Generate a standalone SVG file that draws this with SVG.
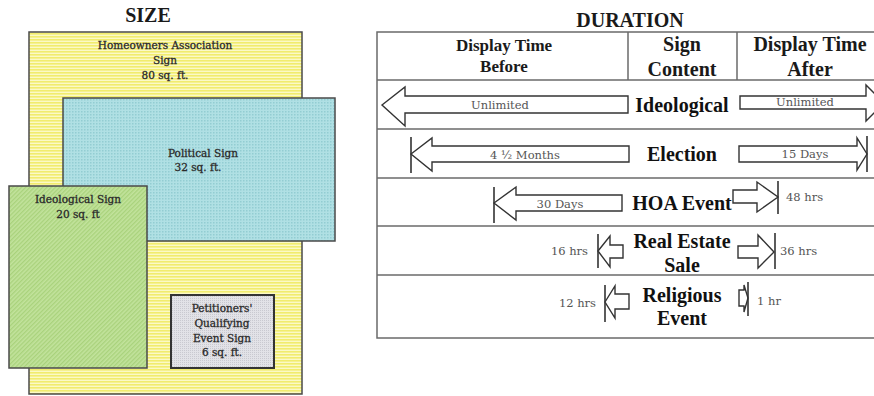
<svg xmlns="http://www.w3.org/2000/svg" width="874" height="396" viewBox="0 0 874 396">
<defs>
<pattern id="pYellow" width="4" height="3" patternUnits="userSpaceOnUse">
<rect width="4" height="3" fill="#fbf9c6"/>
<rect width="4" height="1.6" fill="#f1ec6e"/>
</pattern>
<pattern id="pBlue" width="3" height="3" patternUnits="userSpaceOnUse">
<rect width="3" height="3" fill="#b0e0e4"/>
<rect width="1.5" height="1.5" fill="#93cdd2"/>
</pattern>
<pattern id="pGreen" width="3" height="3" patternUnits="userSpaceOnUse" patternTransform="rotate(45)">
<rect width="3" height="3" fill="#c2e39c"/>
<rect width="1.3" height="3" fill="#a9d27c"/>
</pattern>
<pattern id="pGray" width="2" height="2" patternUnits="userSpaceOnUse">
<rect width="2" height="2" fill="#e2e2e7"/>
<rect width="1" height="1" fill="#c9c9d0"/>
</pattern>
</defs>
<style>
.ttl{font-family:"Liberation Serif",serif;font-weight:bold;font-size:20px;fill:#1a1a1a;text-anchor:middle}
.lbl{font-family:"DejaVu Serif",serif;font-size:10.5px;fill:#222;stroke:#333;stroke-width:0.3;text-anchor:middle}
.hdr{font-family:"Liberation Serif",serif;font-weight:bold;fill:#1a1a1a;text-anchor:middle}
.cnt{font-family:"Liberation Serif",serif;font-weight:bold;font-size:20px;fill:#111;text-anchor:middle}
.sm{font-family:"DejaVu Serif",serif;font-size:11.5px;fill:#555}
.mid{text-anchor:middle}
.end{text-anchor:end}
.box{stroke:#4a4a4a;stroke-width:1.5}
.tbl{fill:none;stroke:#6a6a6a;stroke-width:1.5}
.arr{fill:#fff;stroke:#333;stroke-width:1.4;stroke-linejoin:miter}
.bar{stroke:#333;stroke-width:1.6}
</style>

<!-- SIZE panel -->
<text class="ttl" x="148" y="22">SIZE</text>
<g id="hoa-sign">
<rect class="box" x="29" y="32" width="273" height="362" fill="url(#pYellow)"/>
<text class="lbl" x="165" y="49">Homeowners Association</text>
<text class="lbl" x="165" y="64">Sign</text>
<text class="lbl" x="165" y="79">80 sq. ft.</text>
</g>
<g id="political-sign">
<rect class="box" x="63" y="98" width="272" height="143" fill="url(#pBlue)"/>
<text class="lbl" x="203" y="157">Political Sign</text>
<text class="lbl" x="198" y="171">32 sq. ft.</text>
</g>
<g id="ideological-sign">
<rect class="box" x="9" y="186" width="138" height="182" fill="url(#pGreen)"/>
<text class="lbl" x="78" y="203">Ideological Sign</text>
<text class="lbl" x="78" y="218">20 sq. ft</text>
</g>
<g id="petitioners-sign">
<rect x="171" y="295" width="103" height="73" fill="url(#pGray)" stroke="#333" stroke-width="2"/>
<text class="lbl" x="222" y="312">Petitioners'</text>
<text class="lbl" x="222" y="327">Qualifying</text>
<text class="lbl" x="222" y="342">Event Sign</text>
<text class="lbl" x="222" y="356">6 sq. ft.</text>
</g>

<!-- DURATION table -->
<text class="ttl" x="630" y="27">DURATION</text>
<g id="table">
<rect class="tbl" x="377" y="32" width="510" height="306"/>
<line class="tbl" x1="377" y1="80" x2="874" y2="80"/>
<line class="tbl" x1="377" y1="129" x2="874" y2="129"/>
<line class="tbl" x1="377" y1="178" x2="874" y2="178"/>
<line class="tbl" x1="377" y1="226" x2="874" y2="226"/>
<line class="tbl" x1="377" y1="275" x2="874" y2="275"/>
<line class="tbl" x1="628" y1="32" x2="628" y2="80"/>
<line class="tbl" x1="737" y1="32" x2="737" y2="80"/>
</g>
<g id="header">
<text class="hdr" x="504" y="51" font-size="17">Display Time</text>
<text class="hdr" x="504" y="72" font-size="17">Before</text>
<text class="hdr" x="682" y="51" font-size="20">Sign</text>
<text class="hdr" x="682" y="76" font-size="20">Content</text>
<text class="hdr" x="810" y="51" font-size="20">Display Time</text>
<text class="hdr" x="810" y="76" font-size="20">After</text>
</g>

<g id="row-ideological">
<text class="cnt" x="682" y="112">Ideological</text>
</g>
<g id="row-election">
<text class="cnt" x="682" y="161">Election</text>
</g>
<g id="row-hoa">
<text class="cnt" x="682" y="210">HOA Event</text>
</g>
<g id="row-realestate">
<text class="cnt" x="682" y="248">Real Estate</text>
<text class="cnt" x="682" y="272">Sale</text>
</g>
<g id="row-religious">
<text class="cnt" x="682" y="302">Religious</text>
<text class="cnt" x="682" y="325">Event</text>
</g>

<g id="connectors">
<!-- Ideological -->
<polygon class="arr" points="382,105 405,87 405,96 628,96 628,113 405,113 405,126"/>
<polygon class="arr" points="740,96 866,96 866,85 884,103 866,121 866,109 740,109"/>
<!-- Election -->
<line class="bar" x1="411" y1="137" x2="411" y2="173"/>
<polygon class="arr" points="411,154 432,138 432,146 629,146 629,162 432,162 432,171"/>
<polygon class="arr" points="739,146 857,146 857,138 867,154 857,170 857,162 739,162"/>
<line class="bar" x1="867" y1="136" x2="867" y2="172"/>
<!-- HOA Event -->
<line class="bar" x1="494" y1="187" x2="494" y2="223"/>
<polygon class="arr" points="494,203 516,187 516,195 622,195 622,211 516,211 516,220"/>
<polygon class="arr" points="733,190 757,190 757,182 778,197 757,212 757,203 733,203"/>
<line class="bar" x1="778" y1="181" x2="778" y2="214"/>
<!-- Real Estate -->
<line class="bar" x1="598" y1="234" x2="598" y2="268"/>
<polygon class="arr" points="598,251 610,236 610,245 623,245 623,258 610,258 610,267"/>
<polygon class="arr" points="738,246 758,246 758,235 774,252 758,268 758,258 738,258"/>
<line class="bar" x1="775" y1="233" x2="775" y2="269"/>
<!-- Religious -->
<line class="bar" x1="605" y1="285" x2="605" y2="322"/>
<polygon class="arr" points="605,302 615,286 615,294 629,294 629,309 615,309 615,318"/>
<polygon class="arr" points="739,290 744,290 744,285 748,298 744,312 744,306 739,306"/>
<line class="bar" x1="748" y1="282" x2="748" y2="316"/>
</g>

<g id="durations">
<text class="sm mid" x="500" y="109">Unlimited</text>
<text class="sm mid" x="805" y="106">Unlimited</text>
<text class="sm mid" x="525" y="159">4 ½ Months</text>
<text class="sm mid" x="805" y="158">15 Days</text>
<text class="sm mid" x="560" y="208">30 Days</text>
<text class="sm" x="786" y="201">48 hrs</text>
<text class="sm end" x="588" y="255">16 hrs</text>
<text class="sm" x="780" y="255">36 hrs</text>
<text class="sm end" x="596" y="307">12 hrs</text>
<text class="sm" x="757" y="305">1 hr</text>
</g>
</svg>
